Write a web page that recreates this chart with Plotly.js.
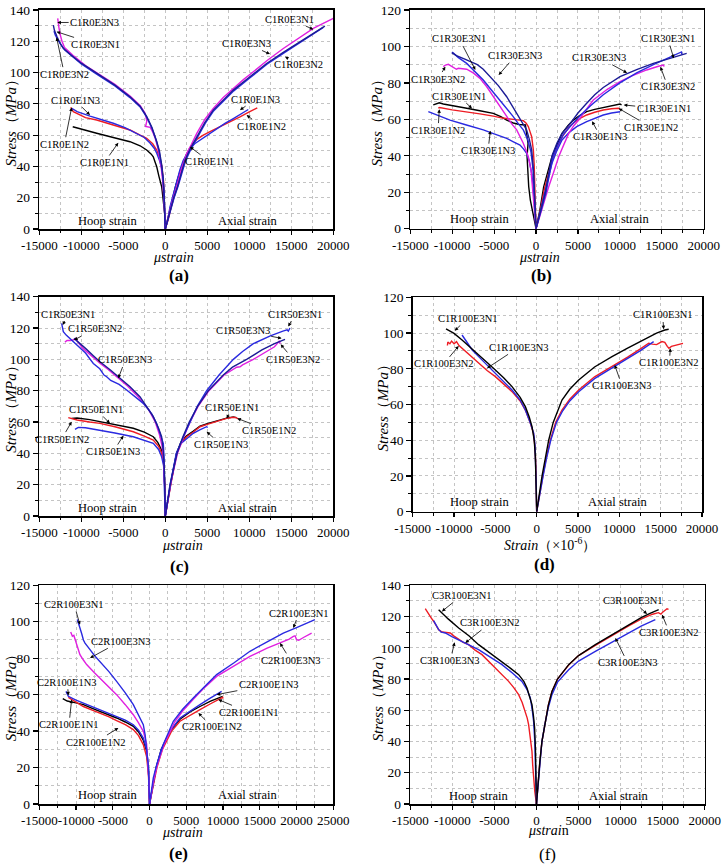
<!DOCTYPE html>
<html><head><meta charset="utf-8">
<script src="https://cdn.plot.ly/plotly-3.0.1.min.js"></script>
<style>html,body{margin:0;padding:0;background:#fff}#chart{width:724px;height:865px}</style>
</head><body><div id="chart"></div>
<script>
// ================= DATA (strain in µε, stress in MPa) =================
// ---- (a) C1R0 ----
const aH_E3N3 = [[-12810,134.7],[-12750,131],[-12650,128.3],[-12500,124],[-12300,120],[-12000,116],[-11000,111],[-9500,104.5],[-8170,99.8],[-6000,92.5],[-4200,85],[-3000,79],[-2400,74],[-2200,69],[-2350,65.5],[-1800,65],[-1500,62],[-1200,58],[-900,52],[-700,46],[-500,40],[-300,30],[-150,20],[-50,8],[0,0]];
const aH_E3N2 = [[-13250,126.5],[-13100,124],[-12800,121],[-12400,117.5],[-12000,114.5],[-11200,111],[-10000,105.5],[-8170,99],[-6000,91.5],[-4200,84],[-3000,78],[-2220,71.5],[-1600,64.5],[-1100,57],[-750,50],[-450,40.5],[-250,31],[-150,20],[-60,10],[0,0]];
const aH_E3N1 = [[-13330,130.4],[-13200,127],[-12900,123],[-12530,118.7],[-12140,115.5],[-11300,111.5],[-10000,106],[-8170,99.5],[-6000,92],[-4200,84.6],[-3000,78.5],[-2220,72],[-1600,65],[-1020,56],[-700,50],[-430,41],[-250,32],[-150,21],[-70,10],[0,0]];
const aH_E1N3 = [[-11140,77.2],[-10500,75],[-8960,72.2],[-7500,70],[-6190,67.6],[-4800,64.8],[-3400,61.2],[-2500,58.5],[-1820,55],[-1300,51.5],[-1020,48.5],[-700,44],[-400,38],[-200,28],[-80,15],[0,0]];
const aH_E1N2 = [[-11260,77.8],[-11100,76],[-10950,75],[-9500,71.2],[-8170,69.7],[-6200,66.5],[-4200,63.3],[-3000,60],[-2220,58],[-1500,54.5],[-1020,50.5],[-700,46],[-400,40],[-200,30],[-80,16],[0,0]];
const aH_E1N1 = [[-11020,65.4],[-9500,63],[-8170,61.2],[-6200,58.5],[-4200,55.8],[-3000,53.2],[-2220,50.5],[-1700,48],[-1430,46.2],[-1200,42.5],[-1020,39.8],[-750,33.5],[-430,27],[-200,16],[-40,7.9],[0,0]];
const aA_E3N1 = [[0,0],[250,6],[560,12],[950,20],[1350,26.9],[1900,38],[2540,48.2],[3100,54],[3730,61],[4700,70],[5710,77],[6900,84],[8100,89.8],[9300,95.5],[10480,100.5],[12200,108],[14050,115.4],[15800,122],[17620,128.3],[18800,131.5],[20000,134.7]];
const aA_E3N2 = [[0,0],[300,6],[650,12],[1050,20],[1500,27],[2050,37],[2400,43.5],[3050,51],[3800,58.5],[4750,67.5],[5750,75.5],[6950,82],[8150,88.3],[10050,96.5],[12100,105.3],[14050,112.3],[16080,119.2],[17500,124.3],[18810,128.9]];
const aA_E3N3 = [[0,0],[280,6],[600,12],[1000,20],[1450,27],[2000,37],[2340,44],[3000,51.5],[3730,58.9],[4700,68],[5710,76],[6900,82.5],[8100,88.8],[10000,97],[12060,105.8],[14000,112.8],[16030,119.7],[17500,125],[19000,129.7]];
const aA_E1N3 = [[0,0],[300,6],[560,14.1],[950,22],[1350,31.2],[1750,38],[2140,44],[2540,48],[2940,51.4],[3500,54.5],[4130,56.8],[5100,60.5],[6110,64.2],[7100,67.5],[8100,70.6],[9000,73.5],[9880,76.4]];
const aA_E1N2 = [[0,0],[350,6],[700,14],[1100,22],[1550,31],[1950,38],[2300,44],[2700,49],[3130,53.6],[3800,57.5],[4520,60],[5500,62.8],[6510,65.3],[7700,68.5],[8890,71.7],[10000,74.8],[10950,77.5]];
const aA_E1N1 = [[0,0],[250,6],[500,12],[850,20],[1250,28],[1700,36],[2100,42],[2500,47.5],[2900,51.5],[3300,54.5]];

// ---- (b) C1R30 ----
const bH_E3N1 = [[-10060,96.6],[-9500,95],[-8500,93],[-7600,91],[-7280,90.7],[-7000,90],[-6300,87.5],[-5490,83.4],[-4500,78.5],[-3500,72.4],[-2900,68],[-2310,63.3],[-1700,58.5],[-1120,54.2],[-800,49],[-520,43.2],[-300,32],[-150,18],[0,0]];
const bH_E3N3 = [[-10000,97],[-9300,94],[-8270,90.7],[-7200,86],[-6290,81.6],[-5300,76],[-4300,70.6],[-3500,66],[-2720,61.5],[-2100,57.5],[-1520,54.2],[-1000,49],[-600,42],[-350,32],[-180,18],[0,0]];
const bH_E3N2 = [[-11060,88.9],[-10800,89.8],[-10460,90.2],[-10000,89],[-9500,87.5],[-9270,88],[-8800,87.8],[-8270,87.5],[-7500,85.5],[-6690,82.5],[-5900,78],[-5100,72.4],[-4300,67],[-3500,61.5],[-2900,57.5],[-2310,54.2],[-1900,50.5],[-1520,46.9],[-1200,43],[-920,39.5],[-600,32],[-350,20],[-150,8],[0,0]];
const bH_E1N1 = [[-12260,67.9],[-11900,68.5],[-11540,69.1],[-11060,68.4],[-9800,67.2],[-8270,66.1],[-6700,64.7],[-5100,63.3],[-4200,61.5],[-3500,59.6],[-2720,58],[-2000,57.2],[-1270,56.9],[-955,46.8],[-1070,39.5],[-995,30.4],[-875,23.1],[-680,15.7],[-400,8.4],[-80,1.1],[0,0]];
const bH_E1N2 = [[-11660,66.1],[-11500,66.5],[-10000,65.2],[-8270,64.2],[-6700,63],[-5100,61.8],[-4000,60.7],[-2720,60],[-1520,59.3],[-1200,58],[-920,56],[-700,53],[-520,50.5],[-400,46],[-320,43.2],[-220,35],[-130,22],[-50,10],[0,0]];
const bH_E1N3 = [[-12850,64.2],[-11500,61.8],[-10260,59.6],[-8300,56.9],[-6290,54.2],[-5000,52],[-3500,49.6],[-2700,47.7],[-1910,45.9],[-1500,43.8],[-1120,41.4],[-800,37],[-500,30],[-300,20],[-120,8],[0,0]];
const bA_E3N3 = [[0,0],[500,9],[1110,20],[1500,30],[1910,40],[2500,47],[3100,52.3],[4050,57.5],[5000,63.5],[6040,68.8],[7000,73.5],[8020,77.5],[10020,83.4],[12000,87.3],[13990,90.7],[15980,93.5],[17970,96.2]];
const bA_E3N1 = [[0,0],[550,9],[1200,20],[1600,30],[2050,40],[2700,47],[3300,52],[4250,57],[5240,62],[6500,67.5],[8020,73.5],[10000,80],[12000,85.5],[14000,90],[15580,93.5],[16600,95.5],[17180,96.8],[17350,97],[17400,95.5]];
const bA_E3N2 = [[0,0],[500,8],[1000,16],[1510,23],[2100,31],[2700,39.5],[3300,46],[3900,52.3],[4500,56.5],[5090,59.6],[6000,65.5],[6830,70.6],[8500,76.5],[10020,80.7],[11500,84],[13200,87.1],[14500,89],[15180,89.8],[15300,89]];
const bA_E1N1 = [[0,0],[450,10],[910,23],[1400,32],[1900,39.5],[2500,46],[3100,52.3],[3800,56.5],[4450,59.6],[5200,62],[6040,64.2],[7000,65.5],[8020,66.6],[9000,67.6],[9800,68.4],[10020,68.4],[10200,68]];
const bA_E1N2 = [[0,0],[500,10],[1000,22],[1500,31],[2000,38.5],[2600,45.5],[3200,51],[3900,55.5],[4600,58.5],[5300,60.7],[6040,62.4],[7000,63.9],[8020,65.1],[9000,65.8],[9820,66.1],[10000,65.6]];
const bA_E1N3 = [[0,0],[550,10],[1100,21],[1500,28],[1900,35.9],[2500,43],[3100,48.7],[4000,53],[4850,56],[6040,58.7],[7000,60.5],[8020,62.4],[9000,63.5],[10020,64.2]];

// ---- (c) C1R50 ----
const cH_E3N1 = [[-12340,123],[-12250,120],[-12140,117.7],[-11800,115.5],[-11500,114],[-10950,111.3],[-10200,107.5],[-9500,104],[-8570,97.4],[-7800,94],[-7300,90],[-6980,88.9],[-6500,86.5],[-5500,84],[-4600,80.4],[-3500,76],[-2620,71.9],[-2000,68],[-1600,65],[-1030,59.1],[-700,54],[-500,50],[-240,46.4],[-150,38],[-80,25],[0,0]];
const cH_E3N3 = [[-10870,113.4],[-10400,111],[-9500,107],[-8600,102.5],[-7780,98.5],[-6500,93],[-5400,87.9],[-4200,82.5],[-3020,76.2],[-2200,70],[-1430,63.4],[-800,56],[-440,50.6],[-250,42],[-120,30],[-50,15],[0,0]];
const cH_E3N2 = [[-11950,111],[-11700,112],[-11300,112],[-10900,112.5],[-10650,113.5],[-10400,111],[-9800,107],[-8800,102],[-7780,97.5],[-6800,93.5],[-6000,90],[-4500,83],[-3200,76],[-2000,68],[-1200,60],[-700,52],[-400,45],[-200,36],[-80,20],[0,0]];
const cH_E1N1 = [[-11150,62.3],[-10500,62.6],[-9000,61.5],[-7780,60.2],[-6000,58.5],[-3810,56],[-2500,53.5],[-1430,50.6],[-900,47],[-440,42.1],[-200,36],[-60,20],[0,0]];
const cH_E1N2 = [[-11550,62.8],[-10500,61.3],[-9000,60],[-7780,59.1],[-6000,57],[-3810,53.8],[-2500,51],[-1430,48.5],[-800,44.5],[-440,40],[-200,34],[-60,18],[0,0]];
const cH_E1N3 = [[-10750,55.3],[-10360,56.6],[-9500,56.3],[-7780,54.9],[-6000,53],[-3810,50.6],[-2500,48.5],[-1430,46.4],[-800,42.5],[-440,37.9],[-200,32],[-60,15],[0,0]];
const cA_E3N1 = [[0,0],[250,10],[560,20],[950,30],[1350,40],[2100,50],[2940,60],[3800,70],[4920,80],[6400,90],[8100,100],[9200,105],[10480,110],[12500,115],[14000,118],[14500,118.8],[14650,118],[14750,119.5],[14840,120]];
const cA_E3N3 = [[0,0],[260,10],[580,20],[980,30],[1400,40],[2050,50],[2850,60],[3850,70],[5120,80],[6900,90],[8000,95],[9680,100],[11500,106],[13000,110],[14250,112.8]];
const cA_E3N2 = [[0,0],[300,10],[620,20],[1020,30],[1450,40],[2150,50],[2950,60],[3900,70],[5200,80],[7000,90],[8500,95],[8900,95.3],[9200,96.5],[10480,100],[12000,105],[13000,108],[13400,110.5],[13550,111.5],[13700,110]];
const cA_E1N2 = [[0,0],[300,10],[650,20],[1000,30],[1350,40],[1900,46.5],[2540,50.6],[3300,53.5],[4130,57],[5000,58.5],[6110,60.2],[7300,62.3],[8100,63],[8400,62.8],[8700,62]];
const cA_E1N1 = [[0,0],[280,10],[620,20],[980,30],[1330,40],[1850,47],[2500,51],[3300,54],[4130,57.3],[5000,59],[6110,60.8],[7300,62.5],[8100,63.2],[8490,62.8]];
const cA_E1N3 = [[0,0],[280,10],[620,20],[950,30],[1300,40],[1800,46],[2140,47.4],[2800,50.5],[3330,52.8],[4100,55],[4700,56.5],[4920,57],[5050,56.5]];

// ---- (d) C1R100 ----
const dH_E3N1 = [[-10970,102.3],[-10000,99.8],[-9030,96.1],[-8000,92],[-7020,87.7],[-6000,83.5],[-5000,79.3],[-4000,75],[-2980,70],[-2000,64],[-1370,58.8],[-900,53],[-565,47.6],[-300,40],[-160,30.8],[-80,20],[0,0]];
const dH_E3N3 = [[-9030,98.9],[-8500,95],[-7800,90.5],[-7020,86.8],[-6000,82],[-5000,77.5],[-4000,73],[-2980,68.1],[-2000,62.5],[-1370,56.9],[-800,50],[-360,44],[-200,37],[-100,26],[-50,14],[0,0]];
const dH_E3N2 = [[-10800,93],[-10750,95],[-10500,94],[-10300,95.5],[-10000,94],[-9700,95.2],[-9400,93],[-9030,91.5],[-8000,87],[-7020,83],[-6000,79],[-5000,75.6],[-4000,71.5],[-2980,67.2],[-2000,62],[-1370,56.9],[-800,50],[-400,44],[-200,36],[-100,25],[0,0]];
const dA_E3N1 = [[0,0],[300,10],[650,20],[1050,30],[1450,40],[2000,50],[3060,62.5],[4000,68.5],[5080,73.7],[7000,81],[9110,86.8],[11000,91.5],[13150,97],[14500,100],[15500,101.7],[15970,102.1]];
const dA_E3N2 = [[0,0],[350,10],[750,20],[1150,30],[1650,40],[2300,50],[3060,56.9],[4000,63],[5080,68.1],[7000,75.5],[9110,81.2],[11000,86.5],[12500,91],[13550,94.3],[14000,93.8],[14500,93.5],[15160,95.2],[15500,94.8],[15800,92.5],[16000,91.5],[16300,92.5],[16800,93],[17700,94.2]];
const dA_E3N3 = [[0,0],[350,10],[780,20],[1200,30],[1700,40],[2400,50],[3150,56.5],[4000,62],[5080,67.2],[7000,74.5],[9110,80.3],[11000,85.5],[12500,90],[14150,95.2]];

// ---- (e) C2R100 ----
const eH_E3N1 = [[-9830,101.2],[-9700,99],[-9470,96.6],[-9200,93],[-9000,90],[-8780,88.3],[-8500,87],[-8100,84.7],[-7500,81.5],[-6750,78.3],[-5500,72.5],[-4480,67.3],[-3300,61],[-2210,54.5],[-1500,49],[-850,43.5],[-600,38],[-400,28.9],[-150,20],[0,0]];
const eH_E3N3 = [[-10730,94.4],[-10500,92],[-10300,92.5],[-10140,90.2],[-9800,86],[-9470,81.9],[-9000,79],[-8560,76.5],[-7500,72],[-6750,69.1],[-5500,64],[-4480,60],[-3300,54.5],[-2210,49],[-1500,44.5],[-850,39.9],[-400,33],[-200,22],[-50,10],[0,0]];
const eH_E1N3 = [[-11370,61.8],[-11200,60],[-11050,59.1],[-10000,57],[-9000,55.4],[-7800,53.5],[-6750,51.8],[-5500,49.8],[-4480,48.1],[-3300,46],[-2210,43.5],[-1500,40.5],[-850,36.2],[-400,30],[-150,20],[0,0]];
const eH_E1N1 = [[-11810,57.8],[-11200,56.5],[-10000,55.5],[-9000,54.5],[-7800,52.5],[-6750,50.9],[-5500,49],[-4480,47.2],[-3300,45],[-2210,42.6],[-1500,39.5],[-850,35],[-400,29],[-150,19],[0,0]];
const eH_E1N2 = [[-11050,58.5],[-10000,56],[-9000,53.5],[-7800,51.5],[-6750,49.9],[-5500,47.8],[-4480,45.7],[-3300,43.5],[-2210,40.8],[-1500,37.5],[-850,32.6],[-400,26],[-150,16],[0,0]];
const eA_E3N1 = [[0,0],[300,8],[510,14.3],[1000,22],[1870,32.6],[3230,45.4],[4500,52],[5950,58.2],[7500,64.5],[9130,71],[11500,77.5],[13660,83.8],[16000,89],[18200,93.8],[20000,96.8],[21500,99.3],[22500,101.2]];
const eA_E3N3 = [[0,0],[350,8],[600,14],[1100,22],[2000,33],[3400,45],[4500,51],[5950,57.5],[7500,64],[9130,70],[11500,76],[13660,81],[16000,85.5],[17750,88.3],[19000,90.5],[19560,92],[19800,92.3],[20000,90.2],[20300,89.8],[21000,91.5],[22050,93.8]];
const eA_E1N3 = [[0,0],[400,10],[900,20],[1600,30],[2800,40],[4140,47.2],[5500,51],[6860,54.5],[8200,58],[9810,61.8]];
const eA_E1N1 = [[0,0],[400,10],[900,20],[1600,30],[2800,40],[4140,46.5],[5500,50.5],[6860,53.5],[8300,56.5],[9950,59.1]];
const eA_E1N2 = [[0,0],[450,10],[1000,20],[1750,30],[3000,40],[4140,45.4],[5500,48.8],[6860,51.8],[8300,55],[9950,58.5],[10000,57.8]];

// ---- (f) C3R100 ----
const fH_E3N1 = [[-11630,124.4],[-10500,118.5],[-9250,112.7],[-8000,107.5],[-6880,102],[-5500,96.5],[-4100,91.3],[-3000,86.5],[-2120,82.8],[-1500,78.5],[-1130,74.3],[-800,69],[-535,63.6],[-350,56],[-220,48.7],[-120,35],[-50,20],[0,0]];
const fH_E3N2 = [[-13220,125],[-13000,123],[-12820,121.2],[-12500,119],[-12230,117],[-11900,114],[-11630,111.6],[-11240,110.1],[-10700,109.8],[-10250,109.5],[-9800,107.5],[-9250,105.2],[-8700,103.5],[-8060,102],[-7300,98.5],[-6480,95.6],[-5700,91.5],[-4900,87],[-4100,83],[-3310,78.5],[-2700,74.5],[-2120,70],[-1700,65],[-1330,59.3],[-1100,55],[-935,50.8],[-800,45],[-650,40],[-535,33.7],[-450,25],[-340,16.6],[-200,8],[0,0]];
const fH_E3N3 = [[-12230,117.4],[-12000,115.5],[-11630,111.6],[-11300,110],[-10840,109.5],[-10000,107],[-8860,104.1],[-7800,101.5],[-6880,98.8],[-5500,94],[-4100,89.2],[-2900,84],[-1730,78.5],[-1100,73],[-730,67.9],[-500,60],[-340,52.9],[-200,40],[-100,25],[0,0]];
const fA_E3N1 = [[0,0],[200,15],[400,27],[650,40],[1000,52],[1400,63],[1840,72],[2500,80],[3830,89.2],[5000,95],[7000,102],[9000,108.5],[10960,114.8],[12500,119.5],[13500,122],[14530,124.4]];
const fA_E3N2 = [[0,0],[200,15],[400,27],[650,40],[1000,52],[1400,63],[1840,72],[2500,80],[3830,89],[5000,95],[7000,101.5],[9000,108],[10960,114],[12500,118.5],[13800,121.5],[14500,122.5],[14800,121.5],[15000,122.8],[15300,124.2],[15520,125],[15700,124.6]];
const fA_E3N3 = [[0,0],[200,14],[420,26],[650,40.1],[1000,51],[1400,61.5],[1840,70],[2500,78],[3830,86],[5000,91.5],[7000,97.7],[9000,103.5],[10960,109.5],[12500,114],[14130,118]];

// tick labels
const xTicksA = [-15000,-10000,-5000,0,5000,10000,15000,20000];
const xTicksE = [-15000,-10000,-5000,0,5000,10000,15000,20000,25000];
const yTicks140 = [0,20,40,60,80,100,120,140];
const yTicks120 = [0,20,40,60,80,100,120];

// ================= BUILD =================
const BLACK='#000000', RED='#ee1c24', BLUE='#2a2ae0', NAVY='#1c1c96', MAG='#e020e0';
const FONT = 'Liberation Serif, Times New Roman, serif';
const traces = [];
function add(pts, color, ax, name){
  traces.push({type:'scatter', mode:'lines', name:name, x:pts.map(p=>p[0]), y:pts.map(p=>p[1]),
    xaxis:'x'+ax, yaxis:'y'+ax, line:{color:color, width:1.4}, hoverinfo:'skip'});
}
// (a)
add(aH_E1N1,BLACK,'','C1R0E1N1'); add(aH_E1N2,RED,'','C1R0E1N2'); add(aH_E1N3,BLUE,'','C1R0E1N3');
add(aH_E3N3,MAG,'','C1R0E3N3'); add(aH_E3N2,BLUE,'','C1R0E3N2'); add(aH_E3N1,NAVY,'','C1R0E3N1');
add(aA_E1N1,BLACK,'','C1R0E1N1'); add(aA_E1N2,RED,'','C1R0E1N2'); add(aA_E1N3,BLUE,'','C1R0E1N3');
add(aA_E3N1,MAG,'','C1R0E3N1'); add(aA_E3N2,BLUE,'','C1R0E3N2'); add(aA_E3N3,NAVY,'','C1R0E3N3');
// (b)
add(bH_E1N1,BLACK,'2','C1R30E1N1'); add(bH_E1N2,RED,'2','C1R30E1N2'); add(bH_E1N3,BLUE,'2','C1R30E1N3');
add(bH_E3N2,MAG,'2','C1R30E3N2'); add(bH_E3N3,BLUE,'2','C1R30E3N3'); add(bH_E3N1,NAVY,'2','C1R30E3N1');
add(bA_E1N1,BLACK,'2','C1R30E1N1'); add(bA_E1N2,RED,'2','C1R30E1N2'); add(bA_E1N3,BLUE,'2','C1R30E1N3');
add(bA_E3N2,MAG,'2','C1R30E3N2'); add(bA_E3N1,BLUE,'2','C1R30E3N1'); add(bA_E3N3,NAVY,'2','C1R30E3N3');
// (c)
add(cH_E1N1,BLACK,'3','C1R50E1N1'); add(cH_E1N2,RED,'3','C1R50E1N2'); add(cH_E1N3,BLUE,'3','C1R50E1N3');
add(cH_E3N2,MAG,'3','C1R50E3N2'); add(cH_E3N1,BLUE,'3','C1R50E3N1'); add(cH_E3N3,NAVY,'3','C1R50E3N3');
add(cA_E1N1,BLACK,'3','C1R50E1N1'); add(cA_E1N2,RED,'3','C1R50E1N2'); add(cA_E1N3,BLUE,'3','C1R50E1N3');
add(cA_E3N2,MAG,'3','C1R50E3N2'); add(cA_E3N1,BLUE,'3','C1R50E3N1'); add(cA_E3N3,NAVY,'3','C1R50E3N3');
// (d)
add(dH_E3N2,RED,'4','C1R100E3N2'); add(dH_E3N3,BLUE,'4','C1R100E3N3'); add(dH_E3N1,BLACK,'4','C1R100E3N1');
add(dA_E3N2,RED,'4','C1R100E3N2'); add(dA_E3N3,BLUE,'4','C1R100E3N3'); add(dA_E3N1,BLACK,'4','C1R100E3N1');
// (e)
add(eH_E1N1,BLACK,'5','C2R100E1N1'); add(eH_E1N2,RED,'5','C2R100E1N2'); add(eH_E1N3,BLUE,'5','C2R100E1N3');
add(eH_E3N3,MAG,'5','C2R100E3N3'); add(eH_E3N1,BLUE,'5','C2R100E3N1');
add(eA_E1N1,BLACK,'5','C2R100E1N1'); add(eA_E1N2,RED,'5','C2R100E1N2'); add(eA_E1N3,BLUE,'5','C2R100E1N3');
add(eA_E3N3,MAG,'5','C2R100E3N3'); add(eA_E3N1,BLUE,'5','C2R100E3N1');
// (f)
add(fH_E3N2,RED,'6','C3R100E3N2'); add(fH_E3N3,BLUE,'6','C3R100E3N3'); add(fH_E3N1,BLACK,'6','C3R100E3N1');
add(fA_E3N2,RED,'6','C3R100E3N2'); add(fA_E3N3,BLUE,'6','C3R100E3N3'); add(fA_E3N1,BLACK,'6','C3R100E3N1');

const W=724, H=865;
function dx(l,r){return [l/W, r/W];}
function dy(t,b){return [1-b/H, 1-t/H];}
const GRID = '#c4c4c4';
function xaxis(dom, ticks, anchor){
  return {domain:dom, range:[ticks[0], ticks[ticks.length-1]], anchor:anchor,
    tickmode:'array', tickvals:ticks, ticktext:ticks.map(v=>String(v)), tickangle:0,
    ticks:'outside', ticklen:4, tickwidth:1.2, tickcolor:'#000',
    tickfont:{family:FONT, size:13, color:'#000'},
    showline:true, linecolor:'#000', linewidth:1.6, mirror:true,
    showgrid:true, gridcolor:GRID, griddash:'dot', gridwidth:1, zeroline:false,
    minor:{dtick:2500, tick0:0, ticks:'outside', ticklen:2.5, tickcolor:'#000', tickwidth:1,
      showgrid:true, gridcolor:GRID, griddash:'dot', gridwidth:1}};
}
function yaxis(dom, ticks, anchor){
  return {domain:dom, range:[0, ticks[ticks.length-1]], anchor:anchor,
    tickmode:'array', tickvals:ticks, ticktext:ticks.map(v=>String(v)), tickangle:0,
    ticks:'outside', ticklen:5, tickwidth:1.2, tickcolor:'#000',
    tickfont:{family:FONT, size:13.5, color:'#000'},
    showline:true, linecolor:'#000', linewidth:1.6, mirror:true,
    showgrid:true, gridcolor:GRID, griddash:'dot', gridwidth:1, zeroline:false,
    minor:{dtick:10, tick0:0, ticks:'outside', ticklen:3, tickcolor:'#000', tickwidth:1,
      showgrid:true, gridcolor:GRID, griddash:'dot', gridwidth:1}};
}

const layout = {
  width:W, height:H, margin:{l:0,r:0,t:0,b:0}, showlegend:false,
  paper_bgcolor:'#fff', plot_bgcolor:'#fff', font:{family:FONT, color:'#000'},
  xaxis:  xaxis(dx(39.3,333.3), xTicksA, 'y'),  yaxis:  yaxis(dy(10,229), yTicks140, 'x'),
  xaxis2: xaxis(dx(410.3,703.7), xTicksA, 'y2'), yaxis2: yaxis(dy(10,228.7), yTicks120, 'x2'),
  xaxis3: xaxis(dx(39.3,333.3), xTicksA, 'y3'), yaxis3: yaxis(dy(296.7,516), yTicks140, 'x3'),
  xaxis4: xaxis(dx(412.7,702), xTicksA, 'y4'),  yaxis4: yaxis(dy(297.3,511.7), yTicks120, 'x4'),
  xaxis5: xaxis(dx(39.3,333.3), xTicksE, 'y5'), yaxis5: yaxis(dy(585.3,804), yTicks120, 'x5'),
  xaxis6: xaxis(dx(410.3,704.7), xTicksA, 'y6'), yaxis6: yaxis(dy(585.3,804), yTicks140, 'x6'),
  annotations: []
};
const ann = layout.annotations;
function label(ax, text, tx, ty, lx, ly){
  ann.push({xref:'x'+ax, yref:'y'+ax, axref:'x'+ax, ayref:'y'+ax, x:tx, y:ty, ax:lx, ay:ly,
    text:text, showarrow:true, arrowhead:2, arrowsize:0.9, arrowwidth:0.8, arrowcolor:'#000',
    standoff:0, startstandoff:0, font:{family:FONT, size:10.5, color:'#000'}});
}
function plain(ax, text, x, y, size){
  ann.push({xref:'x'+ax, yref:'y'+ax, x:x, y:y, text:text, showarrow:false,
    font:{family:FONT, size:size, color:'#000'}});
}
function paperText(text, px, py, size, angle){
  ann.push({xref:'paper', yref:'paper', x:px/W, y:1-py/H, text:text, showarrow:false,
    textangle:angle||0, xanchor:'center', yanchor:'middle',
    font:{family:FONT, size:size, color:'#000'}});
}
// (a) labels
label('', 'C1R0E3N3', -12860,132, -8410,132.1);
label('', 'C1R0E3N1', -12940,126.1, -8290,118);
label('', 'C1R0E3N2', -12940,122.5, -12020,99);
label('', 'C1R0E1N3', -8970,72.8, -10750,82.4);
label('', 'C1R0E1N2', -11150,77.7, -12020,54.2);
label('', 'C1R0E1N1', -5600,55.1, -7260,42.5);
label('', 'C1R0E3N1', 17620,127.6, 14840,134.2);
label('', 'C1R0E3N3', 12460,111.8, 9680,118.6);
label('', 'C1R0E3N2', 14250,110.1, 15910,105.2);
label('', 'C1R0E1N3', 8890,76, 10750,83);
label('', 'C1R0E1N2', 9680,72.8, 11470,65.7);
label('', 'C1R0E1N1', 2940,52.5, 5320,42.9);
// (b)
label('2', 'C1R30E3N1', -7240,87.1, -9150,104.1);
label('2', 'C1R30E3N3', -4460,84.3, -2470,94.9);
label('2', 'C1R30E3N2', -10820,88.9, -11690,82.1);
label('2', 'C1R30E1N1', -7640,66, -9230,72.8);
label('2', 'C1R30E1N2', -11540,65.5, -11690,54.1);
label('2', 'C1R30E1N3', -5450,53.8, -5730,42.8);
label('2', 'C1R30E3N1', 16430,93.5, 15710,104.4);
label('2', 'C1R30E3N3', 10860,85.5, 7560,93.8);
label('2', 'C1R30E3N2', 14840,88.9, 15710,77.9);
label('2', 'C1R30E1N1', 10460,67.9, 15230,65.7);
label('2', 'C1R30E1N2', 9860,66, 13760,55.6);
label('2', 'C1R30E1N3', 6680,59, 7680,50.5);
// (c)
label('3', 'C1R50E3N1', -12220,121.9, -11550,128.9);
label('3', 'C1R50E3N2', -10870,112.3, -8410,119.4);
label('3', 'C1R50E3N3', -5600,87.9, -4760,99.6);
label('3', 'C1R50E1N1', -6590,59.1, -8250,68.1);
label('3', 'C1R50E1N2', -11150,60.2, -12340,49.1);
label('3', 'C1R50E1N3', -5000,51.3, -6190,41.1);
label('3', 'C1R50E3N1', 14640,120.9, 15440,128.9);
label('3', 'C1R50E3N3', 13850,113.4, 9210,118.3);
label('3', 'C1R50E3N2', 13730,109.6, 15240,100);
label('3', 'C1R50E1N1', 7300,62.3, 7980,69.4);
label('3', 'C1R50E1N2', 8570,62.3, 12380,54.5);
label('3', 'C1R50E1N3', 4920,53.8, 6630,45.7);
// (d)
label('4', 'C1R100E3N1', -9920,101.3, -8350,108.2);
label('4', 'C1R100E3N3', -6010,80.3, -2180,92);
label('4', 'C1R100E3N2', -9440,92.8, -11250,82.7);
label('4', 'C1R100E3N1', 15360,102.1, 15240,110.1);
label('4', 'C1R100E3N2', 16170,91.5, 16050,83.4);
label('4', 'C1R100E3N3', 9440,82.1, 10320,70.5);
// (e)
label('5', 'C2R100E3N1', -9470,98.4, -10260,109.4);
label('5', 'C2R100E3N3', -8100,80.1, -3930,89.3);
label('5', 'C2R100E1N3', -11050,59.6, -11180,66.8);
label('5', 'C2R100E1N1', -10600,57.3, -10960,43.5);
label('5', 'C2R100E1N2', -4250,41.7, -7330,34);
label('5', 'C2R100E3N1', 19560,96.6, 20330,104.8);
label('5', 'C2R100E3N3', 17750,88.3, 19200,78.8);
label('5', 'C2R100E1N3', 9130,60, 16230,65.5);
label('5', 'C2R100E1N1', 9360,57.3, 13480,50.3);
label('5', 'C2R100E1N2', 6640,49.9, 8540,42.3);
// (f)
label('6', 'C3R100E3N1', -11240,123.3, -8860,133.6);
label('6', 'C3R100E3N2', -8460,103.1, -5490,115.9);
label('6', 'C3R100E3N3', -9730,103.5, -10250,92);
label('6', 'C3R100E3N1', 13140,121.6, 11430,130.2);
label('6', 'C3R100E3N2', 14930,121.2, 15800,109.9);
label('6', 'C3R100E3N3', 9380,106.3, 10840,90.3);

// Hoop / Axial strain labels
[['',-6880,9760],['2',-6760,9900],['3',-6900,9760],['4',-6940,9760],['5',-5750,13300],['6',-6880,9770]].forEach(p=>{
  plain(p[0], 'Hoop strain', p[1], 5.2, 12.5);
  plain(p[0], 'Axial strain', p[2], 5.2, 12.5);
});

// axis titles
const yT = '<i>Stress</i>（<i>MPa</i>）';
paperText(yT, 10, 119.5, 15, -90);
paperText(yT, 376, 119.5, 15, -90);
paperText(yT, 10.7, 406, 15, -90);
paperText(yT, 382, 404.5, 15, -90);
paperText(yT, 10.7, 694.5, 15, -90);
paperText(yT, 377, 694.5, 15, -90);
paperText('<i>μstrain</i>', 173, 257, 14);
paperText('<i>μstrain</i>', 539, 257, 14);
paperText('<i>μstrain</i>', 182, 545, 14);
paperText('<i>Strain</i>（×10<sup>-6</sup>）', 549.5, 544, 14);
paperText('<i>μstrain</i>', 182, 832, 14);
paperText('<i>μstrai</i>n', 548, 830, 14);
// panel letters
paperText('<b>(a)</b>', 179, 275, 17);
paperText('<b>(b)</b>', 541, 275, 17);
paperText('<b>(c)</b>', 179, 566, 17);
paperText('<b>(d)</b>', 544, 564, 17);
paperText('<b>(e)</b>', 178, 853, 17);
paperText('(f)', 547, 854, 17);

Plotly.newPlot('chart', traces, layout, {staticPlot:true});
</script></body></html>
